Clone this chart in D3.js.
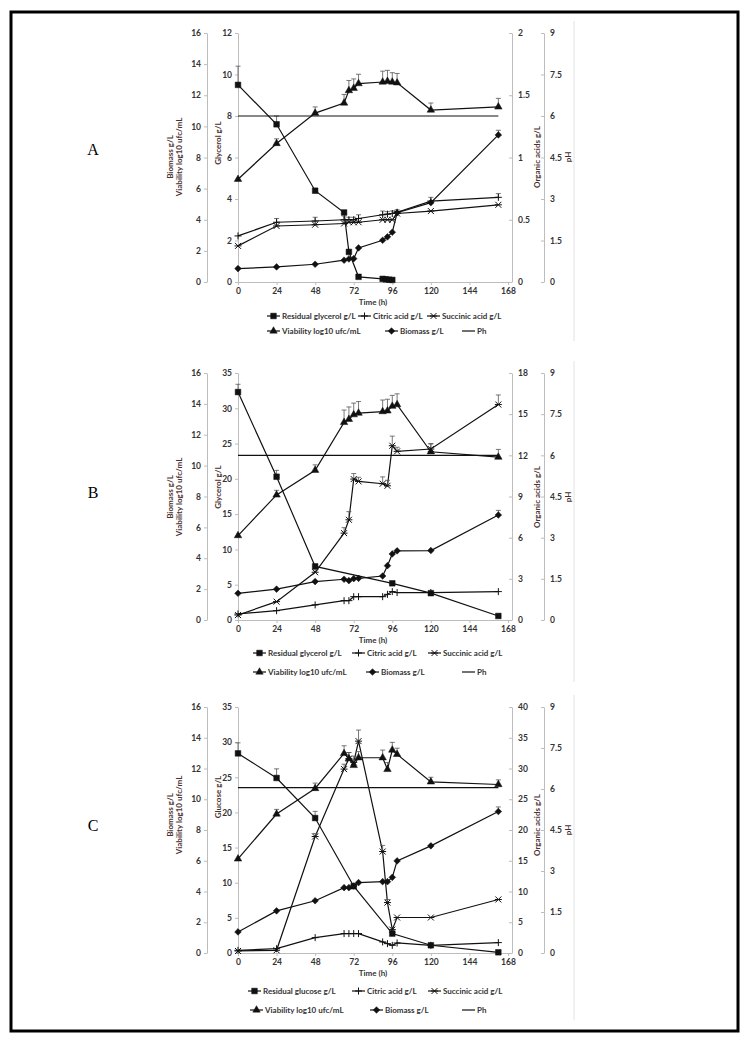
<!DOCTYPE html>
<html>
<head>
<meta charset="utf-8">
<script src="https://cdn.jsdelivr.net/npm/d3@7"></script>
<style>
body{margin:0;background:#fff}
svg{display:block}
text{font-family:Lato,"Open Sans",sans-serif}
.axis path,.axis line{stroke:#bdbdbd;stroke-width:1}
.axis text{fill:#333;font-size:8.5px;font-weight:bold;font-family:Lato,sans-serif}
.ttl{fill:#4a3030;font-size:8px;font-weight:bold}
.leg{fill:#333;font-size:8px;font-weight:bold}
</style>
</head>
<body>
<svg id="fig" width="749" height="1041"></svg>
<script>
// sampling times (h)
var times = [0,24,48,66,69,72,75,90,93,96,99,120,162]
var phTimes = [0,162]

// ---- A : glycerol ----
var glyTimeA = [0,24,48,66,69,75,90,92,94,96]
var glyA = [9.5,7.6,4.4,3.35,1.45,0.25,0.15,0.13,0.11,0.1]
var glyErrA = [0.9,0.4,0,0,0,0,0,0,0,0]
var citA = [0.37,0.48,0.49,0.5,0.5,0.5,0.51,0.54,0.545,0.55,0.56,0.65,0.68]
var citErrA = [0,0.03,0.03,0.03,0.02,0.02,0.03,0.03,0.02,0.02,0.02,0.03,0.03]
var sucA = [0.29,0.45,0.46,0.47,0.48,0.48,0.48,0.5,0.5,0.5,0.55,0.57,0.62]
var viaA = [6.6,8.9,10.85,11.5,12.3,12.45,12.75,12.85,12.9,12.85,12.8,11.05,11.25]
var viaErrA = [0,0.3,0.4,0.55,0.65,0.6,0.6,0.7,0.7,0.6,0.6,0.45,0.55]
var bioA = [0.86,0.97,1.14,1.4,1.48,1.5,2.19,2.68,2.9,3.2,4.45,5.1,9.45]
var bioErrA = [0,0,0,0,0,0,0,0,0,0,0,0,0.3]
var phA = [6,6]

// ---- B : glycerol ----
var glyTimeB = [0,24,48,96,120,162]
var glyB = [32.3,20.3,7.6,5.2,3.8,0.57]
var glyErrB = [1.1,0.9,0,0,0,0]
var citB = [0.44,0.68,1.1,1.41,1.41,1.7,1.7,1.7,1.87,2.07,2.0,2.0,2.07]
var citErrB = [0,0,0,0,0,0,0,0,0,0,0,0,0]
var sucB = [0.36,1.34,3.48,6.33,7.3,10.27,10.1,9.93,9.78,12.7,12.29,12.46,15.7]
var sucErrB = [0,0,0.2,0.4,0.6,0.4,0.3,0.5,0.4,0.7,0.3,0.4,0.7]
var viaB = [5.47,8.1,9.7,12.8,13.0,13.3,13.4,13.5,13.55,13.85,13.95,10.9,10.55]
var viaErrB = [0,0.3,0.35,0.8,0.8,0.75,0.75,0.75,0.75,0.7,0.7,0.5,0.5]
var bioB = [1.73,2.0,2.49,2.64,2.55,2.68,2.7,2.85,3.52,4.28,4.48,4.5,6.8]
var bioErrB = [0,0,0,0,0,0,0,0,0,0,0,0,0.3]
var phB = [6,6]

// ---- C : glucose ----
var glyTimeC = [0,24,48,72,96,120,162]
var glyC = [28.4,24.9,19.2,9.5,2.76,1.1,0.1]
var glyErrC = [1.5,1.3,0.95,0,0,0,0]
var citC = [0.44,0.7,2.5,3.16,3.16,3.16,3.16,1.8,1.52,1.25,1.63,1.25,1.69]
var citErrC = [0,0,0,0,0,0,0,0,0,0,0,0,0]
var sucC = [0.33,0.44,18.94,29.9,31.6,31.0,34.45,16.5,8.2,3.8,5.77,5.77,8.7]
var sucErrC = [0,0,0.5,0.8,1,1,1.8,1,0.5,0,0,0,0]
var viaC = [6.12,9.04,10.7,12.98,12.64,12.2,12.7,12.7,11.94,13.2,12.92,11.13,10.96]
var viaErrC = [0,0.3,0.35,0.5,0.4,0.4,0.4,0.5,0.45,0.5,0.4,0.3,0.3]
var bioC = [1.37,2.74,3.4,4.25,4.25,4.36,4.58,4.64,4.64,4.92,5.99,6.97,9.2]
var bioErrC = [0,0,0,0,0,0,0,0,0,0,0,0,0.3]
var phC = [6.05,6.05]

var xTicks = [0,24,48,72,96,120,144,168]
var phTicks = [0,1.5,3,4.5,6,7.5,9]

var panels = [
    {letter:"A", top:33, bottom:282, glyMax:12, glyStep:2, orgMax:2, orgStep:0.5,
     glyTitle:"Glycerol g/L", glyLegend:"Residual glycerol g/L",
     glyT:glyTimeA, gly:glyA, glyErr:glyErrA, cit:citA, citErr:citErrA, suc:sucA, sucErr:null,
     via:viaA, viaErr:viaErrA, bio:bioA, bioErr:bioErrA, ph:phA,
     titleY:{bio:157, gly:143, org:157, ph:157}, letterY:155,
     legY:[316,331], legX:[267,358,427,267,385,462]},
    {letter:"B", top:373, bottom:620, glyMax:35, glyStep:5, orgMax:18, orgStep:3,
     glyTitle:"Glycerol g/L", glyLegend:"Residual glycerol g/L",
     glyT:glyTimeB, gly:glyB, glyErr:glyErrB, cit:citB, citErr:citErrB, suc:sucB, sucErr:sucErrB,
     via:viaB, viaErr:viaErrB, bio:bioB, bioErr:bioErrB, ph:phB,
     titleY:{bio:497, gly:487, org:497, ph:497}, letterY:498,
     legY:[653,672], legX:[253,352,428,253,366,462]},
    {letter:"C", top:707, bottom:953, glyMax:35, glyStep:5, orgMax:40, orgStep:5,
     glyTitle:"Glucose g/L", glyLegend:"Residual glucose g/L",
     glyT:glyTimeC, gly:glyC, glyErr:glyErrC, cit:citC, citErr:citErrC, suc:sucC, sucErr:sucErrC,
     via:viaC, viaErr:viaErrC, bio:bioC, bioErr:bioErrC, ph:phC,
     titleY:{bio:815, gly:797, org:825, ph:830}, letterY:831,
     legY:[991,1010], legX:[248,352,428,250,370,462]}
]

var svg = d3.select("#fig")

svg.append("rect")
    .attr("x",11).attr("y",12)
    .attr("width",727).attr("height",1019)
    .attr("fill","none").attr("stroke","#000").attr("stroke-width",3)

var xScale = d3.scaleLinear().domain([0,168]).range([238,508])
var numFmt = function(d){ return String(+d.toFixed(2)) }

var markerPath = function(type)
{
    if (type == "square") return d3.symbol(d3.symbolSquare,32)()
    if (type == "triangle") return d3.symbol(d3.symbolTriangle,24)()
    if (type == "diamond") return d3.symbol(d3.symbolSquare,22)()
    if (type == "plus") return "M-3.5,0H3.5M0,-3.5V3.5"
    if (type == "cross") return "M-3,-3L3,3M-3,3L3,-3M-3.5,0H3.5"
    return null
}

var addMarker = function(g,type,x,y)
{
    var d = markerPath(type)
    if (!d) return
    var open = (type == "plus" || type == "cross")
    g.append("path")
        .attr("d",d)
        .attr("transform","translate("+x+","+y+")"+(type=="diamond"?" rotate(45)":""))
        .attr("fill",open?"none":"#111")
        .attr("stroke","#111")
        .attr("stroke-width",open?1:0.5)
}

var drawSeries = function(g,ts,vs,errs,yScale,type)
{
    var pts = ts.map(function(t,i){ return [xScale(t), yScale(vs[i])] })
    g.append("path")
        .attr("d",d3.line()(pts))
        .attr("fill","none")
        .attr("stroke","#111")
        .attr("stroke-width",1.2)
    if (errs)
    {
        ts.forEach(function(t,i)
        {
            if (!errs[i]) return
            var x = xScale(t), y0 = yScale(vs[i]), y1 = yScale(vs[i]+errs[i])
            g.append("line").attr("x1",x).attr("x2",x).attr("y1",y0).attr("y2",y1)
                .attr("stroke","#555").attr("stroke-width",0.8)
            g.append("line").attr("x1",x-2.5).attr("x2",x+2.5).attr("y1",y1).attr("y2",y1)
                .attr("stroke","#555").attr("stroke-width",0.8)
        })
    }
    pts.forEach(function(p){ addMarker(g,type,p[0],p[1]) })
}

var rotText = function(g,x,y,txt)
{
    g.append("text")
        .attr("class","ttl")
        .attr("transform","translate("+x+","+y+") rotate(-90)")
        .attr("text-anchor","middle")
        .attr("dy","0.35em")
        .text(txt)
}

var drawPanel = function(p)
{
    var g = svg.append("g")
    var yBio = d3.scaleLinear().domain([0,16]).range([p.bottom,p.top])
    var yGly = d3.scaleLinear().domain([0,p.glyMax]).range([p.bottom,p.top])
    var yOrg = d3.scaleLinear().domain([0,p.orgMax]).range([p.bottom,p.top])
    var yPh = d3.scaleLinear().domain([0,9]).range([p.bottom,p.top])

    // faint chart-area edge
    g.append("line").attr("x1",574).attr("x2",574)
        .attr("y1",p.top-12).attr("y2",p.legY[1]+10)
        .attr("stroke","#e2e2e2")

    g.append("text")
        .attr("x",93).attr("y",p.letterY)
        .attr("text-anchor","middle")
        .style("font-family","'Liberation Serif',serif")
        .style("font-size","16px")
        .text(p.letter)

    g.append("g").attr("class","axis")
        .attr("transform","translate(207,0)")
        .call(d3.axisLeft(yBio).tickValues(d3.range(0,17,2)).tickSize(3).tickSizeOuter(0))
    g.append("g").attr("class","axis")
        .attr("transform","translate("+xScale(0)+",0)")
        .call(d3.axisLeft(yGly).tickValues(d3.range(0,p.glyMax+0.01,p.glyStep)).tickSize(3).tickSizeOuter(0))
    g.append("g").attr("class","axis")
        .attr("transform","translate(512,0)")
        .call(d3.axisRight(yOrg).tickValues(d3.range(0,p.orgMax+0.01,p.orgStep)).tickFormat(numFmt)
            .tickSizeInner(-3).tickSizeOuter(0).tickPadding(6))
    g.append("g").attr("class","axis")
        .attr("transform","translate(544,0)")
        .call(d3.axisRight(yPh).tickValues(phTicks).tickFormat(numFmt)
            .tickSizeInner(-3).tickSizeOuter(0).tickPadding(6))
    g.append("g").attr("class","axis")
        .attr("transform","translate(0,"+p.bottom+")")
        .call(d3.axisBottom(xScale).tickValues(xTicks).tickSize(3).tickSizeOuter(0))

    g.append("text").attr("class","ttl")
        .attr("x",(xScale(0)+xScale(168))/2).attr("y",p.bottom+23)
        .attr("text-anchor","middle").style("fill","#333")
        .text("Time (h)")

    rotText(g,170,p.titleY.bio,"Biomass g/L")
    rotText(g,179,p.titleY.bio,"Viability log10 ufc/mL")
    rotText(g,218,p.titleY.gly,p.glyTitle)
    rotText(g,537,p.titleY.org,"Organic acids g/L")
    rotText(g,568,p.titleY.ph,"pH")

    drawSeries(g,p.glyT,p.gly,p.glyErr,yGly,"square")
    drawSeries(g,times,p.cit,p.citErr,yOrg,"plus")
    drawSeries(g,times,p.suc,p.sucErr,yOrg,"cross")
    drawSeries(g,times,p.via,p.viaErr,yBio,"triangle")
    drawSeries(g,times,p.bio,p.bioErr,yBio,"diamond")
    drawSeries(g,phTimes,p.ph,null,yPh,"none")

    var legend = [
        {label:p.glyLegend, type:"square"},
        {label:"Citric acid g/L", type:"plus"},
        {label:"Succinic acid g/L", type:"cross"},
        {label:"Viability log10 ufc/mL", type:"triangle"},
        {label:"Biomass g/L", type:"diamond"},
        {label:"Ph", type:"none"}
    ]
    legend.forEach(function(item,i)
    {
        var x0 = p.legX[i], y = p.legY[i<3?0:1]
        g.append("line").attr("x1",x0).attr("x2",x0+13).attr("y1",y).attr("y2",y)
            .attr("stroke","#111").attr("stroke-width",1.2)
        addMarker(g,item.type,x0+6.5,y)
        g.append("text").attr("class","leg")
            .attr("x",x0+15).attr("y",y).attr("dy","0.35em")
            .text(item.label)
    })
}

panels.forEach(drawPanel)
</script>
</body>
</html>
